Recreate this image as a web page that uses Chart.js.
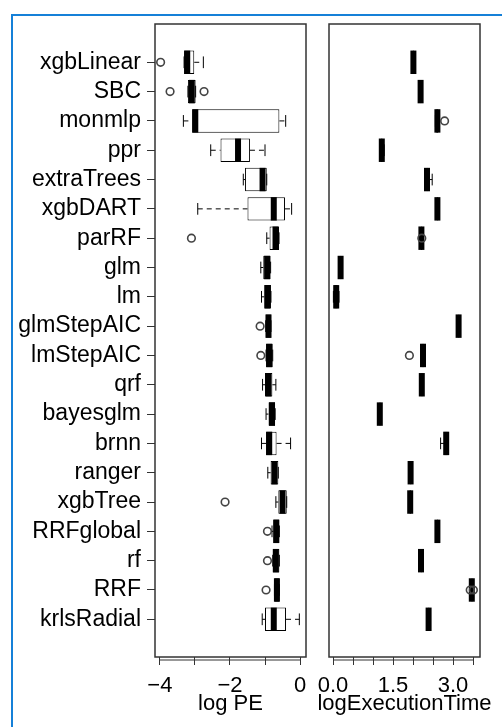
<!DOCTYPE html>
<html>
<head>
<meta charset="utf-8">
<script src="https://cdn.jsdelivr.net/npm/chart.js@4.4.1/dist/chart.umd.min.js"></script>
<style>
  body { margin: 0; background: #fff; }
  #wrap { position: relative; width: 502px; height: 727px; overflow: hidden; }
  #frame { position: absolute; left: 11px; top: 14px; right: -10px; bottom: -10px;
           border-left: 2px solid #1580d8; border-top: 2px solid #1580d8; }
  canvas { position: absolute; left: 0; top: 0; }
</style>
</head>
<body>
<div id="wrap">
  <div id="frame"></div>
  <canvas id="peChart" width="502" height="727"></canvas>
  <canvas id="timeChart" width="502" height="727"></canvas>
</div>
<script>
// models, top to bottom
var models = ['xgbLinear', 'SBC', 'monmlp', 'ppr', 'extraTrees', 'xgbDART', 'parRF', 'glm', 'lm',
  'glmStepAIC', 'lmStepAIC', 'qrf', 'bayesglm', 'brnn', 'ranger', 'xgbTree', 'RRFglobal', 'rf',
  'RRF', 'krlsRadial'];

// log PE per model: [low whisker, Q1, median, Q3, high whisker]
var peStats = [
  [-3.31, -3.31, -3.22, -3.02, -2.76],
  [-3.20, -3.20, -3.09, -2.98, -2.98],
  [-3.33, -3.08, -2.99, -0.59, -0.41],
  [-2.55, -2.27, -1.77, -1.43, -1.00],
  [-1.62, -1.57, -1.07, -0.95, -0.95],
  [-2.92, -1.50, -0.75, -0.43, -0.24],
  [-0.95, -0.87, -0.70, -0.60, -0.60],
  [-1.12, -1.05, -0.94, -0.84, -0.84],
  [-1.10, -1.02, -0.93, -0.83, -0.83],
  [-0.98, -0.98, -0.90, -0.83, -0.83],
  [-0.97, -0.97, -0.88, -0.78, -0.78],
  [-1.07, -1.00, -0.90, -0.79, -0.69],
  [-0.97, -0.90, -0.80, -0.71, -0.71],
  [-1.10, -0.97, -0.88, -0.67, -0.27],
  [-0.92, -0.84, -0.73, -0.62, -0.62],
  [-0.69, -0.62, -0.50, -0.38, -0.38],
  [-0.80, -0.76, -0.68, -0.59, -0.59],
  [-0.78, -0.78, -0.69, -0.59, -0.59],
  [-0.73, -0.73, -0.66, -0.59, -0.59],
  [-1.08, -1.00, -0.75, -0.40, -0.02]
];
var peOutliers = [[-3.98], [-3.71, -2.74], [], [], [], [], [-3.10], [], [], [-1.14], [-1.12],
  [], [], [], [], [-2.14], [-0.93], [-0.93], [-0.97], []];
var peTicks = [-4, -3, -2, -1, 0];
var peTickLabels = ['\u22124', '', '\u22122', '', '0'];

// logExecutionTime per model: [low whisker, Q1, median, Q3, high whisker]
var timeStats = [
  [1.98, 1.99, 2.01, 2.03, 2.04],
  [2.17, 2.18, 2.19, 2.21, 2.22],
  [2.56, 2.58, 2.61, 2.63, 2.64],
  [1.19, 1.20, 1.22, 1.24, 1.28],
  [2.33, 2.34, 2.35, 2.37, 2.48],
  [2.59, 2.60, 2.61, 2.63, 2.63],
  [2.19, 2.20, 2.21, 2.23, 2.23],
  [0.17, 0.18, 0.19, 0.21, 0.21],
  [0.01, 0.03, 0.08, 0.12, 0.15],
  [3.12, 3.13, 3.14, 3.16, 3.16],
  [2.20, 2.21, 2.25, 2.28, 2.30],
  [2.20, 2.21, 2.22, 2.24, 2.24],
  [1.15, 1.16, 1.17, 1.19, 1.19],
  [2.69, 2.78, 2.83, 2.87, 2.88],
  [1.92, 1.93, 1.94, 1.96, 1.96],
  [1.89, 1.91, 1.93, 1.95, 1.95],
  [2.59, 2.60, 2.61, 2.63, 2.63],
  [2.18, 2.19, 2.20, 2.22, 2.22],
  [3.45, 3.46, 3.47, 3.49, 3.50],
  [2.37, 2.38, 2.39, 2.41, 2.41]
];
var timeOutliers = [[], [], [2.79], [], [], [], [2.22], [], [], [], [1.91], [], [], [], [], [],
  [], [], [3.43, 3.51], []];
var timeTicks = [0, 0.5, 1, 1.5, 2, 2.5, 3, 3.5];
var timeTickLabels = ['0.0', '', '', '1.5', '', '', '3.0', ''];

Chart.defaults.font.family = "'Liberation Sans', Arial, sans-serif";
Chart.defaults.font.size = 22;
Chart.defaults.color = '#000';

// whiskers, staples and thick median line on top of each box
var boxParts = {
  id: 'boxParts',
  afterDatasetDraw: function (chart, args) {
    var ds = chart.data.datasets[args.index];
    if (!ds.stats) return;
    var ctx = chart.ctx, xs = chart.scales.x;
    ctx.save();
    ctx.strokeStyle = '#000';
    ds.stats.forEach(function (s, i) {
      var bar = args.meta.data[i];
      var y = bar.y, h = bar.height;
      var p = s.map(function (v) { return xs.getPixelForValue(v); });
      ctx.lineWidth = 1;
      ctx.setLineDash([5, 4]);
      ctx.beginPath();
      if (p[0] < p[1]) { ctx.moveTo(p[0], y); ctx.lineTo(p[1], y); }
      if (p[4] > p[3]) { ctx.moveTo(p[3], y); ctx.lineTo(p[4], y); }
      ctx.stroke();
      ctx.setLineDash([]);
      ctx.beginPath();
      ctx.moveTo(p[0], y - h / 4); ctx.lineTo(p[0], y + h / 4);
      ctx.moveTo(p[4], y - h / 4); ctx.lineTo(p[4], y + h / 4);
      ctx.stroke();
      ctx.lineWidth = 6;
      ctx.beginPath();
      ctx.moveTo(p[2], y - h / 2); ctx.lineTo(p[2], y + h / 2);
      ctx.stroke();
    });
    ctx.restore();
  }
};

// panel box, axis line under it and axis title under the tick labels
var panel = {
  id: 'panel',
  afterDraw: function (chart, args, opts) {
    var a = chart.chartArea, ctx = chart.ctx, xs = chart.scales.x;
    var ticks = xs.ticks;
    ctx.save();
    ctx.strokeStyle = '#333';
    ctx.lineWidth = 1.5;
    ctx.strokeRect(a.left, a.top, a.right - a.left, a.bottom - a.top);
    ctx.lineWidth = 1;
    ctx.beginPath();
    ctx.moveTo(xs.getPixelForValue(ticks[0].value), a.bottom + 3);
    ctx.lineTo(xs.getPixelForValue(ticks[ticks.length - 1].value), a.bottom + 3);
    ctx.stroke();
    ctx.font = "22px 'Liberation Sans', Arial, sans-serif";
    ctx.fillStyle = '#000';
    ctx.textAlign = 'center';
    ctx.textBaseline = 'alphabetic';
    ctx.fillText(opts.title, (a.left + a.right) / 2, a.bottom + 53);
    ctx.restore();
  }
};

function makeChart(id, stats, outliers, ticks, tickLabels, xMin, xMax, title, showNames, pad) {
  var boxes = stats.map(function (s, i) { return { x: [s[1], s[3]], y: i }; });
  var points = [];
  outliers.forEach(function (list, i) {
    list.forEach(function (v) { points.push({ x: v, y: i }); });
  });
  return new Chart(document.getElementById(id), {
    type: 'bar',
    data: {
      datasets: [{
        data: boxes,
        stats: stats,
        backgroundColor: '#fff',
        borderColor: '#000',
        borderWidth: 1,
        borderSkipped: false,
        categoryPercentage: 0.8,
        barPercentage: 1,
        order: 2
      }, {
        type: 'scatter',
        data: points,
        pointRadius: 3.8,
        pointBackgroundColor: 'rgba(0,0,0,0)',
        pointBorderColor: '#444',
        pointBorderWidth: 1.6,
        order: 1
      }]
    },
    options: {
      indexAxis: 'y',
      responsive: false,
      animation: false,
      events: [],
      layout: { padding: pad },
      plugins: { legend: { display: false }, tooltip: { enabled: false }, panel: { title: title } },
      scales: {
        x: {
          type: 'linear',
          min: xMin,
          max: xMax,
          afterBuildTicks: function (scale) {
            scale.ticks = ticks.map(function (v) { return { value: v }; });
          },
          afterFit: function (scale) { scale.height = 70; },
          ticks: {
            padding: 8,
            maxRotation: 0,
            autoSkip: false,
            callback: function (v, i) { return tickLabels[i]; }
          },
          grid: { drawOnChartArea: false, tickLength: 8, color: '#333' },
          border: { display: false }
        },
        y: {
          type: 'linear',
          display: showNames,
          reverse: true,
          offset: false,
          min: -1.306,
          max: 20.286,
          afterBuildTicks: function (scale) {
            scale.ticks = models.map(function (m, i) { return { value: i }; });
          },
          afterFit: function (scale) { scale.width = showNames ? 155 : 0; },
          ticks: {
            padding: 6,
            autoSkip: false,
            font: { size: 23 },
            callback: function (v) { return models[v]; }
          },
          grid: { drawOnChartArea: false, offset: false, tickLength: 8, color: '#333' },
          border: { display: false }
        }
      }
    },
    plugins: [boxParts, panel]
  });
}

makeChart('peChart', peStats, peOutliers, peTicks, peTickLabels, -4.14, 0.17, 'log PE', true,
  { left: 0, right: 196, top: 24, bottom: 0 });
makeChart('timeChart', timeStats, timeOutliers, timeTicks, timeTickLabels, -0.1, 3.675,
  'logExecutionTime', false, { left: 329, right: 22, top: 24, bottom: 0 });
</script>
</body>
</html>
